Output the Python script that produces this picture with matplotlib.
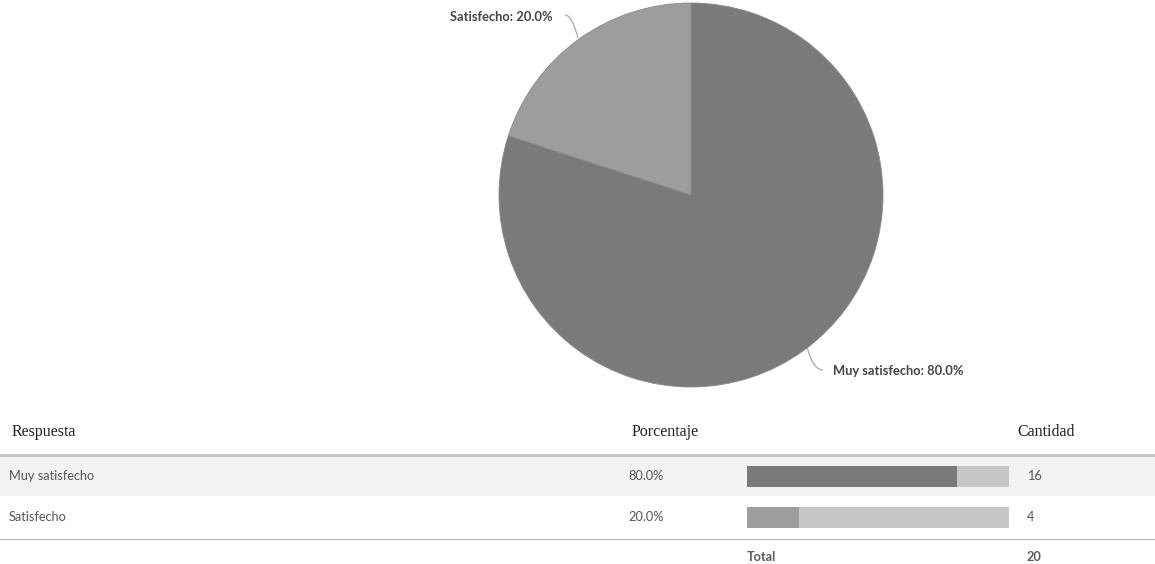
import matplotlib
matplotlib.use("Agg")
import matplotlib.pyplot as plt
from matplotlib.path import Path
from matplotlib.patches import PathPatch

# Survey answers
categories = ["Muy satisfecho", "Satisfecho"]
counts = [16, 4]
total = sum(counts)
percentages = [c / total * 100 for c in counts]
header_labels = ["Respuesta", "Porcentaje", "Cantidad"]
total_label = "Total"

slice_colors = ["#7a7a7a", "#9d9d9d"]
track_color = "#c7c7c7"
text_color = "#555555"
label_color = "#444444"

W, H = 1155, 564
fig = plt.figure(figsize=(W / 100, H / 100), dpi=100)
fig.patch.set_facecolor("white")

def px_axes(x0, y0, w, h):
    """Axes placed by pixel box (top-left origin)."""
    return fig.add_axes([x0 / W, (H - y0 - h) / H, w / W, h / H])

# Overlay axes in pixel coordinates for table decoration and text
ov = fig.add_axes([0, 0, 1, 1])
ov.set_xlim(0, W)
ov.set_ylim(H, 0)
ov.axis("off")

# Row background and rules
ov.add_patch(plt.Rectangle((0, 455), W, 41, facecolor="#f3f3f3", edgecolor="none", zorder=0))
ov.plot([0, W], [454.5, 454.5], color="#c2c2c2", lw=2.0, zorder=1)
ov.plot([0, W], [538.5, 538.5], color="#c2c2c2", lw=1.0, zorder=1)

# Headers
serif = ["Liberation Serif", "DejaVu Serif"]
hy = 432
ov.text(12, hy, header_labels[0], family=serif, fontsize=11.5, color="#222222", va="center", ha="left")
ov.text(632, hy, header_labels[1], family=serif, fontsize=11.5, color="#222222", va="center", ha="left")
ov.text(1017, hy, header_labels[2], family=serif, fontsize=11.5, color="#222222", va="center", ha="left")

# Rows
row_y = [476, 517]
for cat, pct, cnt, y in zip(categories, percentages, counts, row_y):
    ov.text(9, y, cat, family="Lato", fontsize=9.2, color=text_color, va="center", ha="left")
    ov.text(628, y, f"{pct:.1f}%", family="Lato", fontsize=9.2, color=text_color, va="center", ha="left")
    ov.text(1027, y, f"{cnt}", family="Lato", fontsize=9.2, color=text_color, va="center", ha="left")

ov.text(747, 557, total_label, family="Lato", fontsize=9.2, fontweight="bold", color="#5a5a5a", va="center", ha="left")
ov.text(1027, 557, f"{total}", family="Lato", fontsize=9.2, fontweight="bold", color="#5a5a5a", va="center", ha="left")

# Percentage bars
bx = px_axes(747, 466, 262, 62)
bh = 21 / 41
bx.set_xlim(0, 100)
bx.set_ylim(1 + bh / 2, -bh / 2)
bx.axis("off")
ypos = list(range(len(categories)))
bx.barh(ypos, [100] * len(categories), height=bh, color=track_color, zorder=1)
bx.barh(ypos, percentages, height=bh, color=slice_colors, zorder=2)

# Pie chart
cx, cy, r = 691, 195, 192
pa = px_axes(cx - r, cy - r, 2 * r, 2 * r)
pa.pie(percentages, colors=slice_colors, startangle=90, counterclock=False,
       radius=1, wedgeprops=dict(linewidth=0.6, edgecolor="#8a8a8a"))
pa.set_xlim(-1, 1)
pa.set_ylim(-1, 1)
pa.set_aspect("equal")
pa.axis("off")

# Slice labels with curved leader lines (pixel coordinates)
def leader(p0, p1, p2):
    path = Path([p0, p1, p2], [Path.MOVETO, Path.CURVE3, Path.CURVE3])
    ov.add_patch(PathPatch(path, facecolor="none", edgecolor="#aaaaaa", lw=0.9, zorder=5))

leader((565, 15), (572, 15), (578, 38))
ov.text(553, 17, f"{categories[1]}: {percentages[1]:.1f}%", family="Lato", fontsize=9.3,
        fontweight="bold", color=label_color, va="center", ha="right")

leader((807, 347), (813, 370), (823, 370))
ov.text(833, 371, f"{categories[0]}: {percentages[0]:.1f}%", family="Lato", fontsize=9.3,
        fontweight="bold", color=label_color, va="center", ha="left")

fig.savefig("out.png", dpi=100, facecolor="white")
